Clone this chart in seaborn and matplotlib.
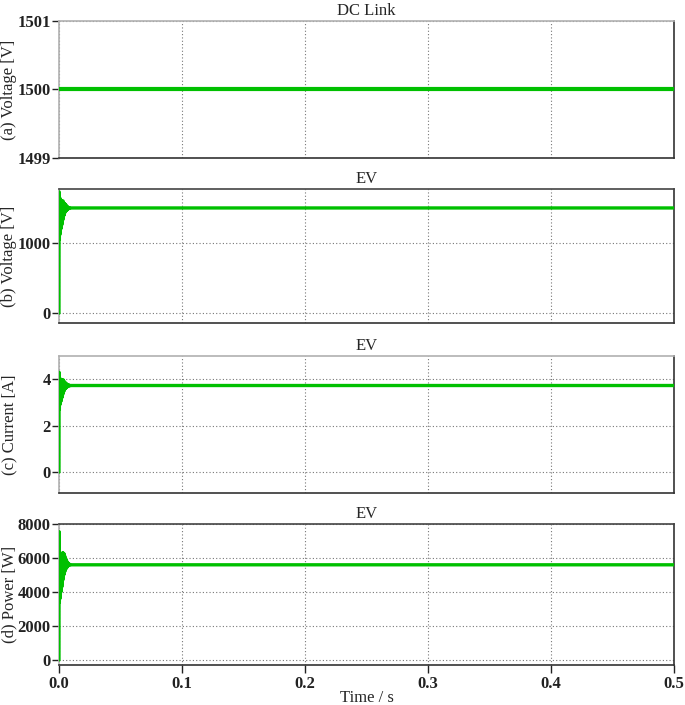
import matplotlib
matplotlib.use("Agg")
import matplotlib.pyplot as plt
import seaborn as sns
import pandas as pd

# time axis (s): start-up transient then steady state
time_s = [0, 0.0001, 0.0003, 0.0005, 0.0007, 0.0009, 0.0011, 0.0013, 0.0015, 0.0017,
          0.0019, 0.0021, 0.0023, 0.0025, 0.0027, 0.0029, 0.0031, 0.0033, 0.0035, 0.0037,
          0.0039, 0.0041, 0.0043, 0.0045, 0.0047, 0.0049, 0.0052, 0.0055, 0.0058, 0.0061,
          0.0064, 0.0067, 0.0070, 0.0074, 0.0078, 0.0083, 0.0090, 0.0100, 0.5]

# (a) DC link voltage
dc_time = [0, 0.5]
dc_voltage = [1500, 1500]

# (b) EV voltage [V]
ev_voltage = [0, 1730, 1050, 1650, 1120, 1620, 1180, 1600, 1200, 1610,
              1230, 1600, 1260, 1590, 1300, 1580, 1330, 1600, 1360, 1570,
              1390, 1570, 1410, 1560, 1430, 1555, 1450, 1545, 1460, 1530,
              1470, 1520, 1480, 1510, 1490, 1505, 1495, 1500, 1500]

# (c) EV current [A]
ev_current = [0, 4.30, 2.70, 4.00, 2.90, 3.95, 3.00, 3.95, 3.05, 4.00,
              3.10, 3.98, 3.20, 3.95, 3.28, 3.93, 3.35, 3.98, 3.42, 3.92,
              3.48, 3.90, 3.53, 3.88, 3.57, 3.86, 3.60, 3.83, 3.63, 3.80,
              3.66, 3.78, 3.68, 3.76, 3.70, 3.75, 3.72, 3.73, 3.73]

# (d) EV power [W]
ev_power = [0, 7550, 3400, 6200, 3600, 6150, 3800, 6200, 4000, 6250,
            4150, 6200, 4300, 6250, 4500, 6300, 4700, 6300, 4850, 6250,
            5000, 6250, 5100, 6150, 5200, 6050, 5300, 5950, 5380, 5850,
            5440, 5760, 5500, 5700, 5550, 5650, 5580, 5600, 5600]

titles = ["DC Link", "EV", "EV", "EV"]
ylabels = ["(a) Voltage [V]", "(b) Voltage [V]", "(c) Current [A]", "(d) Power [W]"]
x_ticks = [0.0, 0.1, 0.2, 0.3, 0.4, 0.5]

sns.set_style("white")
plt.rcParams["font.family"] = ["Liberation Serif", "DejaVu Serif"]

green = "#00c000"

fig = plt.figure(figsize=(6.85, 7.05), dpi=100)
boxes = [
    [0.0861, 0.7759, 0.898, 0.1943],
    [0.0861, 0.5418, 0.898, 0.1901],
    [0.0861, 0.3007, 0.898, 0.1943],
    [0.0861, 0.0567, 0.898, 0.2000],
]
axes = [fig.add_axes(b) for b in boxes]

panels = [
    (pd.DataFrame({"t": dc_time, "y": dc_voltage}), (1499, 1501), [1499, 1500, 1501], 3.0),
    (pd.DataFrame({"t": time_s, "y": ev_voltage}), (-140, 1770), [0, 1000], 2.4),
    (pd.DataFrame({"t": time_s, "y": ev_current}), (-0.9, 5.0), [0, 2, 4], 2.4),
    (pd.DataFrame({"t": time_s, "y": ev_power}), (-300, 8000), [0, 2000, 4000, 6000, 8000], 2.4),
]

for i, (ax, (df, ylim, yt, lw)) in enumerate(zip(axes, panels)):
    sns.lineplot(data=df, x="t", y="y", ax=ax, color=green, lw=lw,
                 estimator=None, sort=False, zorder=3)
    ax.set_xlim(0, 0.5)
    ax.set_ylim(*ylim)
    ax.set_yticks(yt)
    ax.set_xticks(x_ticks)
    ax.grid(True, linestyle=(0, (1, 2)), color="#777777", lw=0.8)
    ax.set_title(titles[i], fontsize=12, pad=4)
    ax.set_ylabel(ylabels[i], fontsize=12)
    ax.yaxis.set_label_coords(-0.068, 0.5)
    ax.set_xlabel("")
    ax.tick_params(axis="y", direction="out", length=5, width=1, left=True,
                   labelsize=12, pad=1, colors="#222222")
    for lab in ax.get_yticklabels():
        lab.set_fontweight("bold")
    if i < 3:
        ax.tick_params(axis="x", bottom=False, labelbottom=False)
    else:
        ax.tick_params(axis="x", direction="out", length=6, width=1, bottom=True,
                       labelsize=12, pad=2, colors="#222222")
        for lab in ax.get_xticklabels():
            lab.set_fontweight("bold")
        ax.set_xlabel("Time / s", fontsize=12)
        ax.xaxis.set_label_coords(0.5, -0.18)
    for side in ["top", "left"]:
        ax.spines[side].set_color("#b0b0b0")
        ax.spines[side].set_linewidth(1.2)
    for side in ["bottom", "right"]:
        ax.spines[side].set_color("#333333")
        ax.spines[side].set_linewidth(1.2)
    if i in (1, 3):
        ax.spines["top"].set_color("#444444")

fig.savefig("out.png", dpi=100)
